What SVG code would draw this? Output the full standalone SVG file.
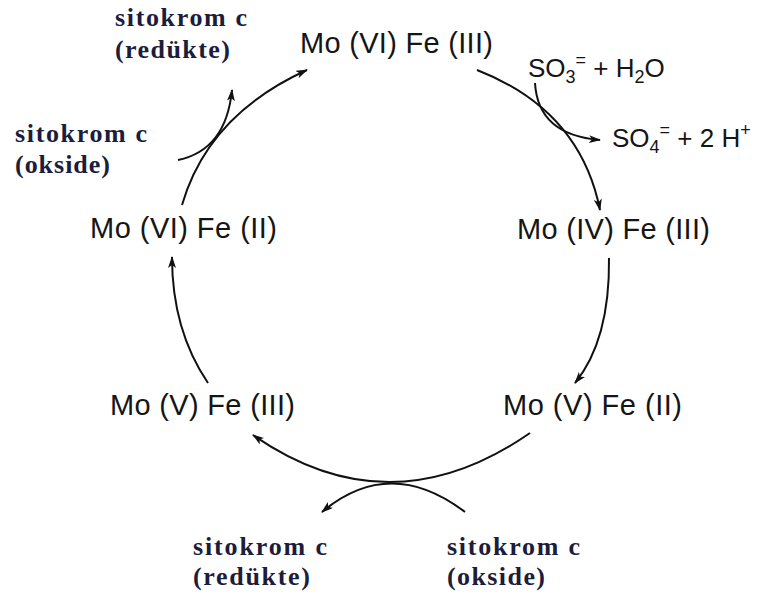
<svg xmlns="http://www.w3.org/2000/svg" width="759" height="601" viewBox="0 0 759 601">
<defs>
<style>
.mo{font-family:"Liberation Sans",Arial,sans-serif;font-size:29px;fill:#151515}
.chem{font-family:"Liberation Sans",Arial,sans-serif;font-size:26px;fill:#151515}
.cyt{font-family:"Liberation Serif","Times New Roman",serif;font-size:26px;font-weight:bold;fill:#1c1c3c}
.c{fill:none;stroke:#111;stroke-width:2}
</style>
<marker id="ah" viewBox="0 0 12 8" refX="11" refY="4" markerWidth="12" markerHeight="8" markerUnits="userSpaceOnUse" orient="auto">
<path d="M0,0 L12,4 L0,8 L3,4 Z" fill="#111"/>
</marker>
</defs>
<rect width="759" height="601" fill="#fff"/>
<g id="connectors">
<path class="c" d="M182 205 Q208 115 307 70" marker-end="url(#ah)"/>
<path class="c" d="M178 160 Q226 150 232 90" marker-end="url(#ah)"/>
<path class="c" d="M477 70 Q580 110 600 210" marker-end="url(#ah)"/>
<path class="c" d="M535 83 Q538 135 600 140" marker-end="url(#ah)"/>
<path class="c" d="M609 258 Q610 340 575 383" marker-end="url(#ah)"/>
<path class="c" d="M530 433 Q390 530 253 435" marker-end="url(#ah)"/>
<path class="c" d="M465 512 Q390 455 322 512" marker-end="url(#ah)"/>
<path class="c" d="M208 383 Q172 330 172 257" marker-end="url(#ah)"/>
</g>
<g id="n1"><text class="mo" x="300" y="53" textLength="193" lengthAdjust="spacing">Mo (VI) Fe (III)</text></g>
<g id="n2"><text class="mo" x="517" y="239" textLength="193" lengthAdjust="spacing">Mo (IV) Fe (III)</text></g>
<g id="n3"><text class="mo" x="503" y="415" textLength="179" lengthAdjust="spacing">Mo (V) Fe (II)</text></g>
<g id="n4"><text class="mo" x="110" y="415" textLength="185" lengthAdjust="spacing">Mo (V) Fe (III)</text></g>
<g id="n5"><text class="mo" x="90" y="238" textLength="187" lengthAdjust="spacing">Mo (VI) Fe (II)</text></g>
<g id="sulfite"><text class="chem" x="528" y="77">SO<tspan font-size="18" dy="6">3</tspan><tspan font-size="18" dy="-17">=</tspan><tspan dy="11"> + H</tspan><tspan font-size="18" dy="6">2</tspan><tspan dy="-6">O</tspan></text></g>
<g id="sulfate"><text class="chem" x="612" y="147">SO<tspan font-size="18" dy="6">4</tspan><tspan font-size="18" dy="-17">=</tspan><tspan dy="11"> + 2 H</tspan><tspan font-size="18" dy="-11">+</tspan></text></g>
<g id="cyt-red-top"><text class="cyt" x="115" y="26" textLength="132" lengthAdjust="spacing">sitokrom c</text><text class="cyt" x="115" y="58" textLength="115" lengthAdjust="spacing">(redükte)</text></g>
<g id="cyt-ox-left"><text class="cyt" x="15" y="142" textLength="132" lengthAdjust="spacing">sitokrom c</text><text class="cyt" x="15" y="173" textLength="95" lengthAdjust="spacing">(okside)</text></g>
<g id="cyt-red-bottom"><text class="cyt" x="193" y="555" textLength="134" lengthAdjust="spacing">sitokrom c</text><text class="cyt" x="193" y="585" textLength="117" lengthAdjust="spacing">(redükte)</text></g>
<g id="cyt-ox-bottom"><text class="cyt" x="447" y="555" textLength="133" lengthAdjust="spacing">sitokrom c</text><text class="cyt" x="447" y="585" textLength="98" lengthAdjust="spacing">(okside)</text></g>
</svg>
